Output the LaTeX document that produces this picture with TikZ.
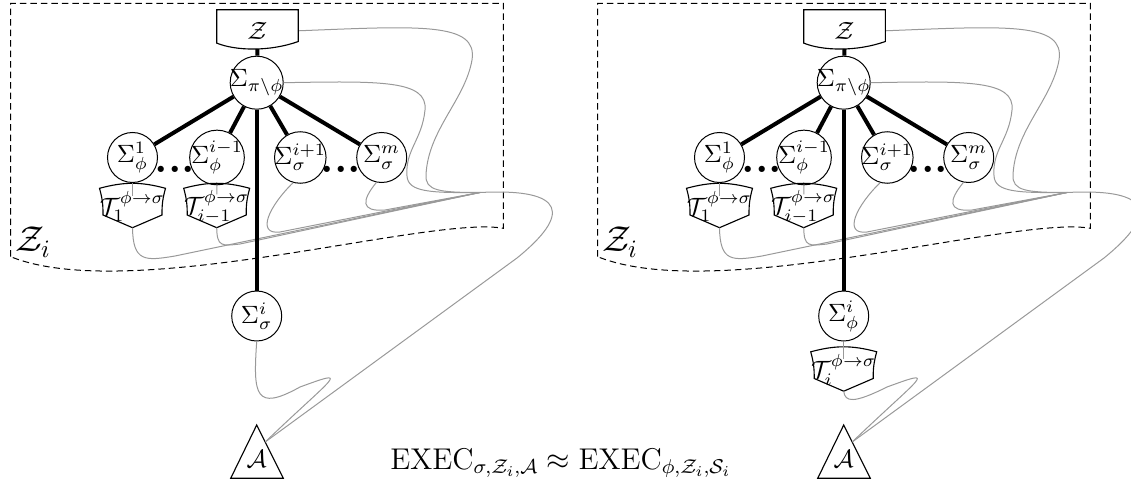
\documentclass[tikz,border=0pt]{standalone}
\usetikzlibrary{calc}
\tikzset{
  circ/.style={circle,draw,fill=white,minimum size=20pt,inner sep=-1pt},
  tree/.style={line width=1.6pt},
  wire/.style={draw=black!40,line width=0.4pt},
  frame/.style={draw,line width=0.4pt,dash pattern=on 2.6pt off 1.6pt},
  shapeline/.style={draw,line width=0.45pt},
  ttext/.style={inner sep=0pt},
  dotrow/.style={inner sep=0pt,font=\LARGE\bfseries},
}

% shield-like outline around a transformer label
% (the y axis points down, so bend left/right are mirrored)
\newcommand\shieldbox[1]{%
  \path[shapeline] ($(#1)+(0,21.2)$) -- ($(#1)+(-29.5,8.5)$)
    to[bend right=8] ($(#1)+(-33,-18.2)$)
    to[bend left=15] ($(#1)+(33,-18.2)$)
    to[bend right=8] ($(#1)+(29.5,8.5)$) -- cycle;}

% one execution: environment, sub-protocols, adversary
\newcommand\panel[1]{%
  \draw[frame] (10.7,256.7) -- (10.7,3.3) -- (503.3,3.3) -- (503.3,228.3)
    .. controls (430,215) and (130,305) .. (10.7,256.7) -- cycle;
  \node[font=\Large] (#1Zi) at (33,242) {$\mathcal{Z}_i$};
  \node[inner sep=0pt] (#1Z) at (257.5,30.8) {$\mathcal{Z}$};
  \coordinate (#1Ze) at ($(#1Z)+(40.8,0)$);
  \coordinate (#1Zb) at ($(#1Z)+(0,18.2)$);
  \node[circ] (#1Spi) at (256.7,82.7) {$\Sigma_{\pi\backslash\phi}$};
  \node[circ] (#1S1) at (132.5,157.5) {$\Sigma^1_\phi$};
  \node[circ] (#1S2) at (217,157.5) {$\Sigma^{i-1}_\phi$};
  \node[circ] (#1S3) at (300.3,157.5) {$\Sigma^{i+1}_\sigma$};
  \node[circ] (#1S4) at (381.7,157.5) {$\Sigma^m_\sigma$};
  \node[dotrow] (#1D1) at (175,169) {...};
  \node[dotrow] (#1D2) at (341,169) {...};
  \node[ttext] (#1T1) at (132.5,206.5) {$\mathcal{T}^{\phi\to\sigma}_1$};
  \node[ttext] (#1T2) at (216.7,206.5) {$\mathcal{T}^{\phi\to\sigma}_{i-1}$};
  \shieldbox{#1T1}\shieldbox{#1T2}
  \coordinate (#1P1) at ($(#1T1)+(0,21.2)$);
  \coordinate (#1P2) at ($(#1T2)+(0,21.2)$);
  \coordinate (#1H) at (480,192.5);
  \node[inner sep=0pt] (#1A) at (256.7,459) {$\mathcal{A}$};
  \coordinate (#1Ap) at ($(#1A)+(8.5,-17)$);
  % message wires towards the adversary
  \draw[wire,shorten >=-2pt] (#1S1) -- (#1T1);
  \draw[wire,shorten >=-2pt] (#1S2) -- (#1T2);
  \draw[wire] (#1P1) .. controls (133,262) and (145,261) .. (175,256) -- (#1H);
  \draw[wire] (#1P2) .. controls (217,247) and (222,246) .. (240,244) -- (#1H);
  \draw[wire] (#1S3.-106) .. controls (270,205) and (255,235) .. (280,232) -- (#1H);
  \draw[wire] (#1S4.-102) .. controls (362,200) and (360,212) .. (385,210) -- (#1H);
  \draw[wire] (#1Ze) .. controls (420,26) and (478,22) .. (472,60)
    .. controls (465,100) and (428,130) .. (426,175)
    .. controls (425,191) and (440,192.5) .. (#1H);
  \draw[wire] (#1Spi.east) .. controls (380,81) and (428,80) .. (425,110)
    .. controls (422,140) and (405,150) .. (407,176)
    .. controls (408,192) and (430,193) .. (#1H);
  \draw[wire] (#1H) .. controls (568,188) and (570,215) .. (517,258) -- (#1Ap);
  % protocol tree
  \draw[tree] (#1Zb) -- (#1Spi);
  \foreach \k in {1,...,4}{\draw[tree] (#1Spi) -- (#1S\k);}
  % environment box and adversary triangle
  \path[shapeline] ($(#1Z)+(-40.8,12.3)$) -- ($(#1Z)+(-40.8,-21)$)
    -- ($(#1Z)+(40.8,-21)$) -- ($(#1Z)+(40.8,10.7)$)
    .. controls ($(#1Z)+(12,21)$) and ($(#1Z)+(-22,20)$) .. ($(#1Z)+(-40.8,12.3)$) -- cycle;
  \path[shapeline] ($(#1A)+(0,-34)$) -- ($(#1A)+(-26,19.3)$)
    -- ($(#1A)+(26.6,19.3)$) -- cycle;
}

\begin{document}
\begin{tikzpicture}[x=0.4pt,y=-0.4pt]
\useasboundingbox (0,0) rectangle (1131,485);

% real execution
\panel{L}
\node[circ] (LSi) at (256.7,316) {$\Sigma^i_\sigma$};
\draw[wire] (LSi.south) .. controls (253,395) and (255,412) .. (300,387)
  .. controls (352,368) and (335,375) .. (LAp);
\draw[tree] (LSpi) -- (LSi);

% ideal execution with simulator
\begin{scope}[shift={(587,0)}]
\panel{R}
\node[circ] (RSi) at (256.7,316) {$\Sigma^i_\phi$};
\node[ttext] (RTi) at (256.7,370) {$\mathcal{T}^{\phi\to\sigma}_i$};
\shieldbox{RTi}
\coordinate (RPi) at ($(RTi)+(0,21.2)$);
\draw[wire,shorten >=-2pt] (RSi) -- (RTi);
\draw[wire] (RPi) .. controls (258,402) and (266,404) .. (300,387)
  .. controls (352,368) and (335,375) .. (RAp);
\draw[tree] (RSpi) -- (RSi);
\end{scope}

\node[font=\large,anchor=base] (exec) at (561,469)
  {$\mathrm{EXEC}_{\sigma,\mathcal{Z}_i,\mathcal{A}}\approx\mathrm{EXEC}_{\phi,\mathcal{Z}_i,\mathcal{S}_i}$};
\end{tikzpicture}
\end{document}
